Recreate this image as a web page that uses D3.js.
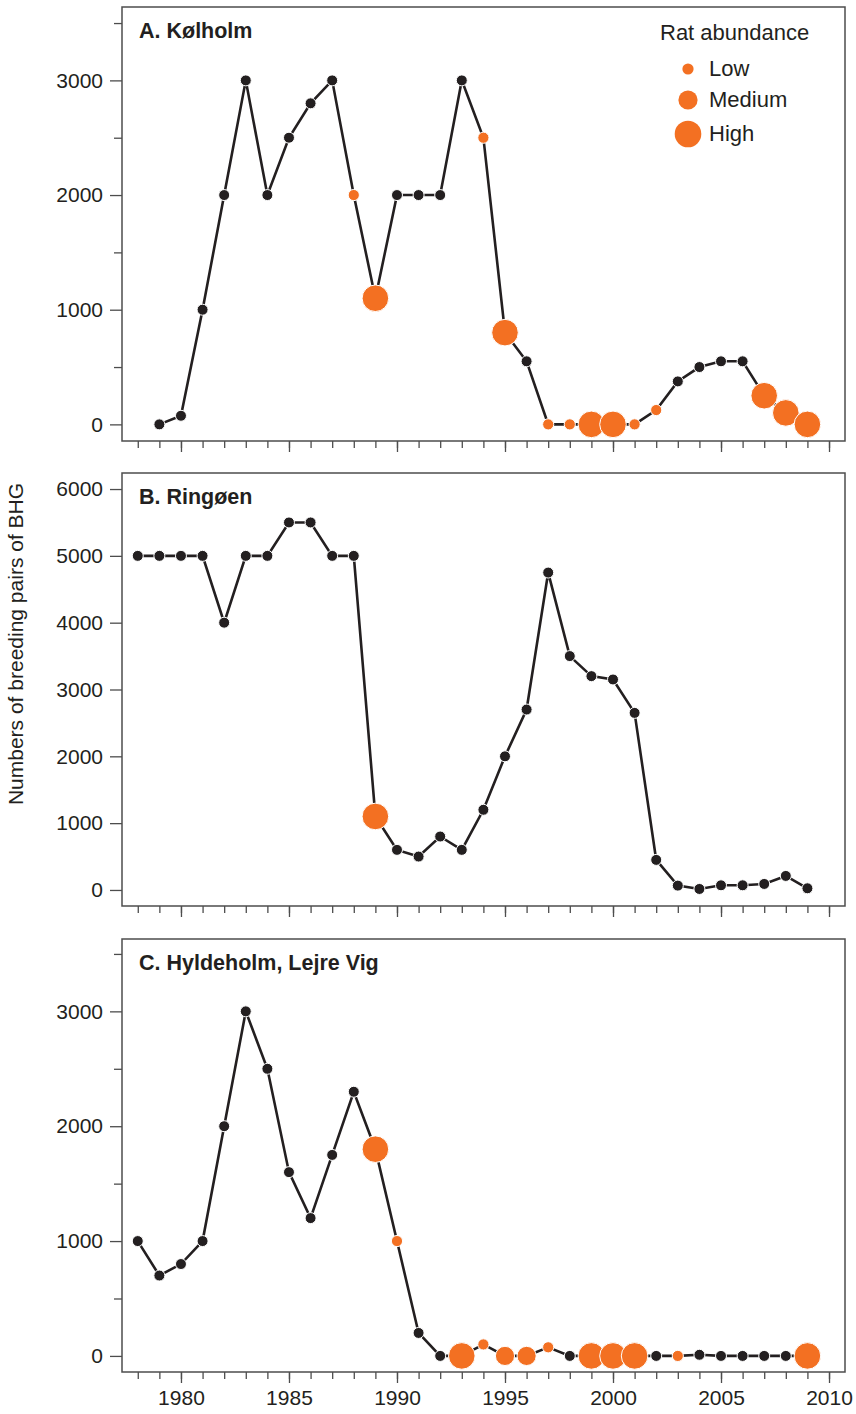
<!DOCTYPE html>
<html lang="en">
<head>
<meta charset="utf-8">
<title>Black-headed gull breeding pairs and rat abundance</title>
<script src="https://d3js.org/d3.v7.min.js"></script>
<style>
  body { margin: 0; background: #fff; }
  svg text { font-family: "Liberation Sans", Arial, sans-serif; fill: #231f20; }
  .axis path { display: none; }
  .axis line { stroke: #4d4d4d; stroke-width: 1.3; }
  .axis text { font-size: 21px; }
</style>
</head>
<body>
<div id="chart"></div>
<script>
// ---- data ----
var years = [1978, 1979, 1980, 1981, 1982, 1983, 1984, 1985, 1986, 1987, 1988,
             1989, 1990, 1991, 1992, 1993, 1994, 1995, 1996, 1997, 1998, 1999,
             2000, 2001, 2002, 2003, 2004, 2005, 2006, 2007, 2008, 2009];

// A. Kølholm (no count in 1978)
var kolholmPairs = [null, 0, 75, 1000, 2000, 3000, 2000, 2500, 2800, 3000, 2000,
                    1100, 2000, 2000, 2000, 3000, 2500, 800, 550, 0, 0, 0,
                    0, 0, 125, 375, 500, 550, 550, 250, 100, 0];
var kolholmRats = ["", "", "", "", "", "", "", "", "", "", "L",
                   "H", "", "", "", "", "L", "H", "", "L", "L", "H",
                   "H", "L", "L", "", "", "", "", "H", "H", "H"];

// B. Ringøen
var ringoenPairs = [5000, 5000, 5000, 5000, 4000, 5000, 5000, 5500, 5500, 5000, 5000,
                    1100, 600, 500, 800, 600, 1200, 2000, 2700, 4750, 3500, 3200,
                    3150, 2650, 450, 65, 15, 70, 70, 90, 210, 25];
var ringoenRats = ["", "", "", "", "", "", "", "", "", "", "",
                   "H", "", "", "", "", "", "", "", "", "", "",
                   "", "", "", "", "", "", "", "", "", ""];

// C. Hyldeholm, Lejre Vig
var hyldeholmPairs = [1000, 700, 800, 1000, 2000, 3000, 2500, 1600, 1200, 1750, 2300,
                      1800, 1000, 200, 0, 0, 100, 0, 0, 75, 0, 0,
                      0, 0, 0, 0, 10, 0, 0, 0, 0, 0];
var hyldeholmRats = ["", "", "", "", "", "", "", "", "", "", "",
                     "H", "L", "", "", "H", "L", "M", "M", "L", "", "H",
                     "H", "H", "", "L", "", "", "", "", "", "H"];

var panelTitles = ["A. Kølholm", "B. Ringøen", "C. Hyldeholm, Lejre Vig"];
var legendLevels = ["L", "M", "H"];
var legendLabels = ["Low", "Medium", "High"];

// ---- layout ----
var W = 856, H = 1414;
var ink = "#231f20", orange = "#f37022";
var radius = { "": 5.5, "L": 5.6, "M": 9.6, "H": 13.3 };

var svg = d3.select("#chart").append("svg")
    .attr("width", W)
    .attr("height", H);

var x = d3.scaleLinear()
    .domain([1977.27, 2010.74])
    .range([122, 845]);

var panels = [
  { pairs: kolholmPairs, rats: kolholmRats, top: 7, bottom: 441,
    domain: [-145, 3640], major: [0, 1000, 2000, 3000], minor: [500, 1500, 2500, 3500] },
  { pairs: ringoenPairs, rats: ringoenRats, top: 473, bottom: 906,
    domain: [-240, 6240], major: [0, 1000, 2000, 3000, 4000, 5000, 6000], minor: [] },
  { pairs: hyldeholmPairs, rats: hyldeholmRats, top: 939, bottom: 1372,
    domain: [-140, 3630], major: [0, 1000, 2000, 3000], minor: [500, 1500, 2500, 3500] }
];

var allYears = d3.range(1978, 2011);
var fiveYears = allYears.filter(function(d) { return d % 5 === 0; });

panels.forEach(function(p, i) {
  var y = d3.scaleLinear().domain(p.domain).range([p.bottom, p.top]);

  // minor + major y ticks
  svg.append("g").attr("class", "axis")
      .attr("transform", "translate(" + x.range()[0] + ",0)")
      .call(d3.axisLeft(y).tickValues(p.minor).tickSize(8).tickFormat(""));
  svg.append("g").attr("class", "axis")
      .attr("transform", "translate(" + x.range()[0] + ",0)")
      .call(d3.axisLeft(y).tickValues(p.major).tickSize(12).tickPadding(7).tickFormat(d3.format("d")));

  // year ticks below each panel
  svg.append("g").attr("class", "axis")
      .attr("transform", "translate(0," + p.bottom + ")")
      .call(d3.axisBottom(x).tickValues(allYears).tickSize(7).tickFormat(""));
  var xMajor = svg.append("g").attr("class", "axis")
      .attr("transform", "translate(0," + p.bottom + ")")
      .call(d3.axisBottom(x).tickValues(fiveYears).tickSize(11).tickPadding(7)
        .tickFormat(i === 2 ? d3.format("d") : ""));

  // frame
  svg.append("rect")
      .attr("x", x.range()[0])
      .attr("y", p.top)
      .attr("width", x.range()[1] - x.range()[0])
      .attr("height", p.bottom - p.top)
      .attr("fill", "none")
      .attr("stroke", "#4d4d4d")
      .attr("stroke-width", 1.5);

  var pts = years.map(function(yr, j) {
    return { year: yr, value: p.pairs[j], rat: p.rats[j] };
  }).filter(function(d) { return d.value !== null; });

  svg.append("path")
      .datum(pts)
      .attr("fill", "none")
      .attr("stroke", ink)
      .attr("stroke-width", 2.6)
      .attr("d", d3.line()
        .x(function(d) { return x(d.year); })
        .y(function(d) { return y(d.value); }));

  svg.append("g").selectAll("circle")
      .data(pts)
      .join("circle")
      .attr("cx", function(d) { return x(d.year); })
      .attr("cy", function(d) { return y(d.value); })
      .attr("r", function(d) { return radius[d.rat]; })
      .attr("fill", function(d) { return d.rat === "" ? ink : orange; })
      .attr("stroke", "#fff")
      .attr("stroke-width", 1);

  svg.append("text")
      .attr("x", 139)
      .attr("y", p.top + 31)
      .style("font-size", "21.5px")
      .style("font-weight", "bold")
      .text(panelTitles[i]);
});

// y axis title
svg.append("text")
    .attr("transform", "translate(22.5,644) rotate(-90)")
    .attr("text-anchor", "middle")
    .style("font-size", "21px")
    .text("Numbers of breeding pairs of BHG");

// legend
svg.append("text")
    .attr("x", 660)
    .attr("y", 40)
    .style("font-size", "22px")
    .text("Rat abundance");

var legendY = [69, 100, 134];
legendLevels.forEach(function(lv, k) {
  svg.append("circle")
      .attr("cx", 688)
      .attr("cy", legendY[k])
      .attr("r", radius[lv])
      .attr("fill", orange);
  svg.append("text")
      .attr("x", 709)
      .attr("y", legendY[k] + 7)
      .style("font-size", "22px")
      .text(legendLabels[k]);
});
</script>
</body>
</html>
